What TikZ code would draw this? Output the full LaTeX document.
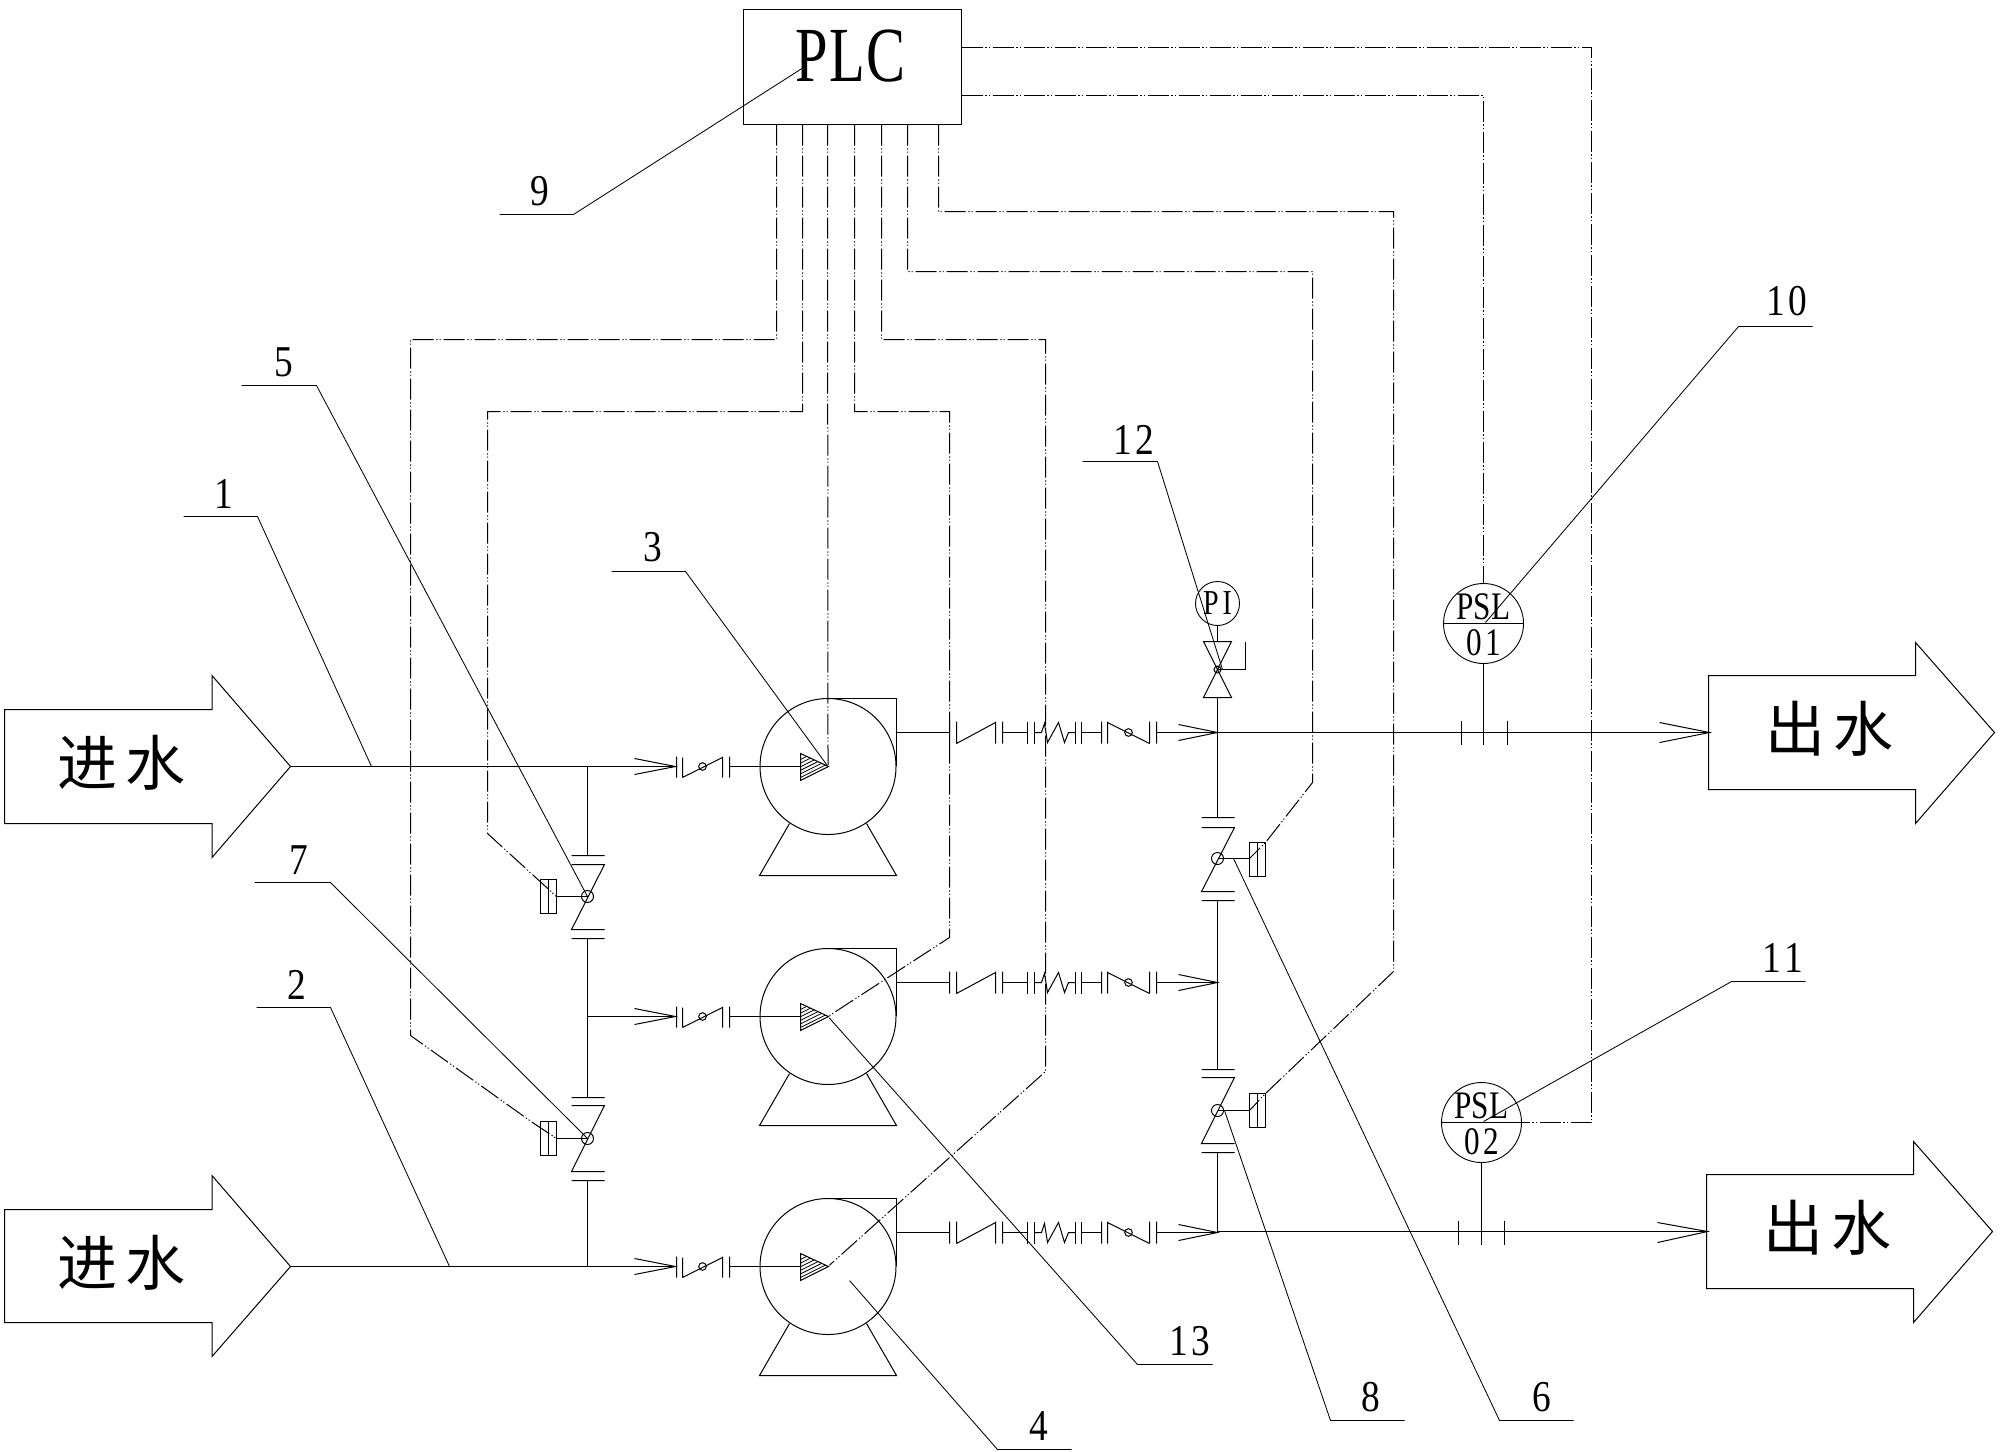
\documentclass[tikz,border=0pt]{standalone}
\usepackage{fontspec}
\setmainfont{Liberation Serif}
\newfontfamily\cjk{Noto Sans CJK SC}
\newfontfamily\narrowa[FakeStretch=0.85]{Liberation Serif}
\newfontfamily\narrowb[FakeStretch=0.8]{Liberation Serif}
\newfontfamily\narrowc[FakeStretch=0.75]{Liberation Serif}
\tikzset{
  pipe/.style={draw=black,line width=0.5pt},
  leader/.style={draw=black,line width=0.42pt},
  signal/.style={draw=black,line width=0.5pt,dash pattern=on 10.5pt off 1.4pt on 0.6pt off 1pt on 0.6pt off 1.4pt},
  bigarrow/.style={draw=black,line width=0.5pt},
  lab/.style={inner sep=0pt,font=\narrowa\fontsize{22}{22}\selectfont},
  water/.style={inner sep=0pt,font=\cjk\fontsize{30}{30}\selectfont},
  tag/.style={inner sep=0pt,font=\narrowb\fontsize{19.5}{19.5}\selectfont},
}
% check valve, inlet type
\newcommand{\inletcv}[1]{
  \begin{scope}[yshift=-#1*0.5pt]
  \draw[pipe] (634,758)--(675,766)--(634,774);
  \draw[pipe] (676,756)--(676,777) (682,757)--(682,777) (682,777)--(722,757) (722,756)--(722,777) (729,756)--(729,777);
  \draw[pipe] (702,766) circle (3.8);
  \draw[pipe] (729,766)--(800,766);
  \end{scope}}
% pump
\newcommand{\pump}[2]{
  \begin{scope}[yshift=-#1*0.5pt]
  \node[inner sep=0pt] (#2) at (827.5,766) {};
  \draw[pipe] (#2) ellipse (68 and 68);
  \draw[pipe] (827,698)--(896,698)--(896,765);
  \draw[pipe] (789,823)--(759,875)--(896,875)--(866,823);
  \begin{scope}
    \clip (800,753)--(800,780)--(828,766)--cycle;
    \foreach \k in {0,...,10}{
      \draw[line width=0.4pt] (798,{760+\k*3.6})--(830,{760+\k*3.6-16});
    }
  \end{scope}
  \draw[pipe] (800,753)--(800,780)--(828,766)--cycle;
  \draw[pipe] (896,732)--(949,732);
  \draw[pipe] (949,721)--(949,743) (956,721)--(956,743) (956,743)--(995,722) (995,721)--(995,743) (1002,721)--(1002,743);
  \draw[pipe] (1002,732)--(1027,732);
  \draw[pipe] (1027,721)--(1027,743) (1034,721)--(1034,743);
  \draw[pipe] (1034,732)--(1041,732)--(1044,723)--(1047,742)--(1058,722)--(1064,742)--(1068,732)--(1075,732);
  \draw[pipe] (1075,721)--(1075,743) (1081,721)--(1081,743);
  \draw[pipe] (1081,732)--(1101,732);
  \draw[pipe] (1101,721)--(1101,743) (1107,721)--(1107,743) (1107,722)--(1149,743) (1149,721)--(1149,743) (1156,721)--(1156,743);
  \draw[pipe] (1128,732) circle (3.8);
  \draw[pipe] (1156,732)--(1217,732);
  \draw[pipe] (1178,724)--(1217,732)--(1178,740);
  \end{scope}}
\begin{document}
\begin{tikzpicture}[x=0.5pt,y=-0.5pt]
\useasboundingbox (0,0) rectangle (2000,1451);
\fill[white] (0,0) rectangle (2000,1451);
\begin{scope}[shift={(0.5,0.5)}]

% PLC
\node[draw=black,line width=0.5pt,outer sep=0pt,minimum width=109pt,minimum height=57.5pt,inner sep=0pt] (plc) at (852,66.5) {};
\node[inner sep=0pt,font=\narrowc\fontsize{39}{39}\selectfont] (plct) at (850,56) {P\kern0.5pt L\kern0.5pt C};

% big arrows
\draw[bigarrow] (4,709)--(211.5,709)--(211.5,675)--(290,766)--(211.5,857)--(211.5,823)--(4,823)--cycle;
\node[water] (in1) at (121,762) {进\kern4pt 水};
\draw[bigarrow] (4,1209)--(211.5,1209)--(211.5,1175)--(290,1266)--(211.5,1356)--(211.5,1322)--(4,1322)--cycle;
\node[water] (in2) at (121,1262) {进\kern4pt 水};
\draw[bigarrow] (1708,675)--(1915,675)--(1915,642)--(1994,732)--(1915,823)--(1915,789)--(1708,789)--cycle;
\node[water] (out1) at (1829,728) {出\kern4pt 水};
\draw[bigarrow] (1706,1174)--(1913,1174)--(1913,1141)--(1992,1231)--(1913,1322)--(1913,1288)--(1706,1288)--cycle;
\node[water] (out2) at (1827,1227) {出\kern4pt 水};

% inlet pipes
\coordinate (t1) at (290,766);
\coordinate (t2) at (290,1266);
\draw[pipe] (t1)--(675,766);
\draw[pipe] (t2)--(675,1266);
\draw[pipe] (587,766)--(587,855);
\draw[pipe] (587,938)--(587,1097);
\draw[pipe] (587,1180)--(587,1266);
\draw[pipe] (587,1016)--(675,1016);
\inletcv{0}\inletcv{250}\inletcv{500}
\pump{0}{p1}\pump{250}{p2}\pump{500}{p3}

% left valves
\foreach \n/\ft/\tt/\cy/\bt/\fb/\rt/\rb in {5/855/864/896/929/938/879/913,7/1097/1105/1138/1171/1180/1121/1155}{
  \draw[pipe] (571,\ft)--(604,\ft) (571,\tt)--(604,\tt)--(571,\bt)--(604,\bt) (571,\fb)--(604,\fb);
  \draw[pipe] (587,\cy) circle (6);
  \draw[pipe] (587,\cy)--(556,\cy);
  \draw[pipe] (540,\rt) rectangle (556,\rb) (548,\rt)--(548,\rb);
}
% right valves
\foreach \n/\ft/\tt/\cy/\bt/\fb/\rt/\rb in {6/817/827/858/891/900/842/876,8/1069/1077/1110/1143/1152/1093/1127}{
  \draw[pipe] (1201,\ft)--(1234,\ft) (1201,\tt)--(1234,\tt)--(1201,\bt)--(1234,\bt) (1201,\fb)--(1234,\fb);
  \draw[pipe] (1217,\cy) circle (6);
  \draw[pipe] (1217,\cy)--(1249,\cy);
  \draw[pipe] (1249,\rt) rectangle (1265,\rb) (1257,\rt)--(1257,\rb);
}
% right header
\draw[pipe] (1217,697)--(1217,817);
\draw[pipe] (1217,900)--(1217,1069);
\draw[pipe] (1217,1152)--(1217,1231);

% PI with valve
\node[draw=black,circle,line width=0.45pt,outer sep=0pt,minimum size=22pt,inner sep=0pt] (pi) at (1217,603) {};
\node[inner sep=0pt,font=\narrowb\fontsize{17.5}{17.5}\selectfont] (pit) at (1217,603) {P\kern2pt I};
\draw[pipe] (pi.south)--(1217,641);
\draw[pipe] (1203,641)--(1231,641)--(1203,697)--(1231,697)--cycle;
\draw[pipe] (1217,669) circle (3.5);
\draw[pipe] (1217,669)--(1245,669)--(1245,641);

% outlets
\draw[pipe] (1217,732)--(1709,732);
\draw[pipe] (1659,722)--(1709,732)--(1659,742);
\draw[pipe] (1217,1231)--(1707,1231);
\draw[pipe] (1657,1222)--(1707,1231)--(1657,1242);
\draw[pipe] (1461,720)--(1461,744) (1507,720)--(1507,744);
\draw[pipe] (1458,1220)--(1458,1244) (1504,1220)--(1504,1244);

% PSL
\node[draw=black,circle,line width=0.45pt,outer sep=0pt,minimum size=40pt,inner sep=0pt] (psl1) at (1483,623) {};
\draw[pipe] (psl1.west)--(psl1.east);
\node[tag] (psl1a) at (1483,606) {PSL};
\node[tag] (psl1b) at (1483,642) {0\kern1.5pt 1};
\draw[pipe] (psl1.south)--(1483,744);
\node[draw=black,circle,line width=0.45pt,outer sep=0pt,minimum size=40pt,inner sep=0pt] (psl2) at (1481,1122) {};
\draw[pipe] (psl2.west)--(psl2.east);
\node[tag] (psl2a) at (1481,1105) {PSL};
\node[tag] (psl2b) at (1481,1141) {0\kern1.5pt 2};
\draw[pipe] (psl2.south)--(1481,1244);

% signal lines
\draw[signal] (plc.south -| 776,124)--(776,339)--(410,339)--(410,1035)--(532,1122)--(556,1138);
\draw[signal] (plc.south -| 802,124)--(802,411)--(487,411)--(487,833)--(556,896);
\draw[signal] (plc.south -| 827,124)--(p1);
\draw[signal] (plc.south -| 854,124)--(854,411)--(949,411)--(949,937)--(p2);
\draw[signal] (plc.south -| 881,124)--(881,339)--(1045,339)--(1045,1071)--(p3);
\draw[signal] (plc.south -| 907,124)--(907,271)--(1312,271)--(1312,782)--(1265,842)--(1249,858);
\draw[signal] (plc.south -| 938,124)--(938,211)--(1393,211)--(1393,971)--(1265,1093)--(1249,1110);
\draw[signal] (plc.east |- 961,47)--(1591,47)--(1591,1122)--(psl2.east);
\draw[signal] (plc.east |- 961,95)--(1483,95)--(psl1.north);

% leaders and labels
\draw[leader] (499,214)--(573,214)--(803,67);
\node[lab] (l9) at (539,191) {9};
\draw[leader] (183,516)--(257,516)--(371,766);
\node[lab] (l1) at (223,493) {1};
\draw[leader] (256,1007)--(330,1007)--(449,1266);
\node[lab] (l2) at (296,984) {2};
\draw[leader] (241,385)--(316,385)--(587,896);
\node[lab] (l5) at (283,362) {5};
\draw[leader] (254,882)--(330,882)--(587,1138);
\node[lab] (l7) at (298,860) {7};
\draw[leader] (611,571)--(685,571)--(p1);
\node[lab] (l3) at (652,547) {3};
\draw[leader] (1071,1449)--(997,1449)--(849,1280);
\node[lab] (l4) at (1038,1425) {4};
\draw[leader] (1212,1364)--(1137,1364)--(p2);
\node[lab] (l13) at (1189,1341) {1\kern1.5pt 3};
\draw[leader] (1404,1420)--(1330,1420)--(1224,1110);
\node[lab] (l8) at (1370,1397) {8};
\draw[leader] (1573,1420)--(1499,1420)--(1233,858);
\node[lab] (l6) at (1541,1397) {6};
\draw[leader] (1082,461)--(1157,461)--(1222,669);
\node[lab] (l12) at (1133,439) {1\kern1.5pt 2};
\draw[leader] (1812,326)--(1738,326)--(1485,622);
\node[lab] (l10) at (1786,301) {1\kern1.5pt 0};
\draw[leader] (1805,981)--(1731,981)--(1483,1121);
\node[lab] (l11) at (1782,957) {1\kern1.5pt 1};
\end{scope}
\end{tikzpicture}
\end{document}
